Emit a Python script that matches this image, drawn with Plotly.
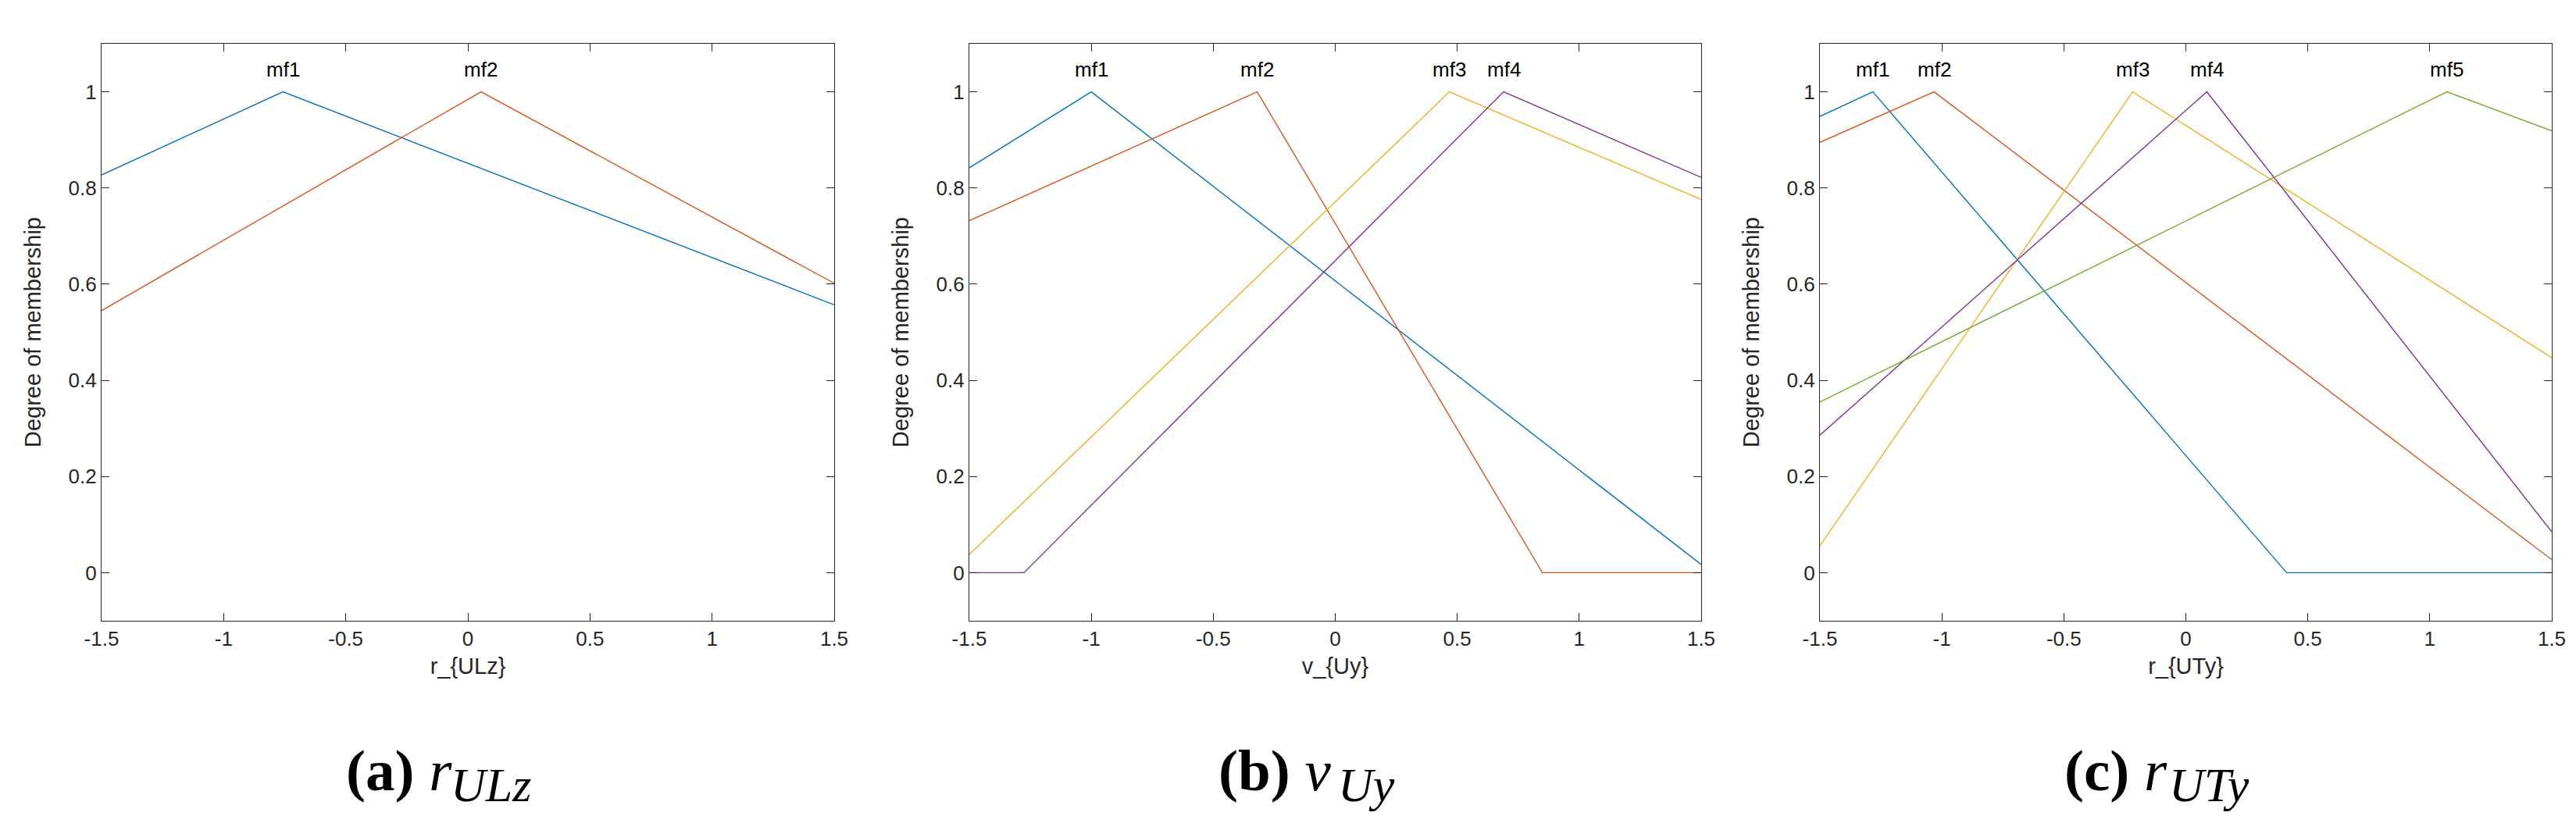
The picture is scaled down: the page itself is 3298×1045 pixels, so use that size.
import plotly.graph_objects as go

# ---------------- data ----------------
a_mf1_x = [-1.5, -0.757, 1.5]
a_mf1_y = [0.827, 1.0, 0.557]
a_mf2_x = [-1.5, 0.054, 1.5]
a_mf2_y = [0.545, 1.0, 0.602]

b_mf1_x = [-1.5, -1.0, 1.5]
b_mf1_y = [0.842, 1.0, 0.017]
b_mf2_x = [-1.5, -0.32, 0.849, 1.5]
b_mf2_y = [0.732, 1.0, 0.0, 0.0]
b_mf3_x = [-1.5, 0.468, 1.5]
b_mf3_y = [0.038, 1.0, 0.776]
b_mf4_x = [-1.5, -1.276, 0.690, 1.5]
b_mf4_y = [0.0, 0.0, 1.0, 0.822]

c_mf1_x = [-1.5, -1.283, 0.413, 1.5]
c_mf1_y = [0.949, 1.0, 0.0, 0.0]
c_mf2_x = [-1.5, -1.032, 1.5]
c_mf2_y = [0.895, 1.0, 0.027]
c_mf3_x = [-1.5, -0.218, 1.5]
c_mf3_y = [0.056, 1.0, 0.447]
c_mf4_x = [-1.5, 0.086, 1.5]
c_mf4_y = [0.286, 1.0, 0.085]
c_mf5_x = [-1.5, 1.070, 1.5]
c_mf5_y = [0.355, 1.0, 0.919]

mf_names = ["mf1", "mf2", "mf3", "mf4", "mf5"]
x_tickvals = [-1.5, -1, -0.5, 0, 0.5, 1, 1.5]
x_ticktext = ["-1.5", "-1", "-0.5", "0", "0.5", "1", "1.5"]
y_tickvals = [0, 0.2, 0.4, 0.6, 0.8, 1]
y_ticktext = ["0", "0.2", "0.4", "0.6", "0.8", "1"]
x_titles = ["r_{ULz}", "v_{Uy}", "r_{UTy}"]
y_title = "Degree of membership"
captions = [("a", "r", "ULz"), ("b", "v", "Uy"), ("c", "r", "UTy")]

colors = ["#0072BD", "#D95319", "#EDB120", "#7E2F8E", "#77AC30"]

panels = [
    [(a_mf1_x, a_mf1_y), (a_mf2_x, a_mf2_y)],
    [(b_mf1_x, b_mf1_y), (b_mf2_x, b_mf2_y), (b_mf3_x, b_mf3_y), (b_mf4_x, b_mf4_y)],
    [(c_mf1_x, c_mf1_y), (c_mf2_x, c_mf2_y), (c_mf3_x, c_mf3_y), (c_mf4_x, c_mf4_y),
     (c_mf5_x, c_mf5_y)],
]

# ---------------- layout geometry ----------------
W, H = 3298, 1045
x_domains = [(122 / W, 1060 / W), (1233 / W, 2170 / W), (2322 / W, 3259 / W)]
y_domain = (258 / H, 997 / H)
caption_main_left = [433, 1550, 2633]
caption_sub_left = [567, 1703, 2767]

AX = "#262626"
FONT = "Liberation Sans"
SERIF = "Liberation Serif"

fig = go.Figure()
annotations = []

for i, series in enumerate(panels):
    xa = "x" if i == 0 else f"x{i+1}"
    ya = "y" if i == 0 else f"y{i+1}"
    for j, (xs, ys) in enumerate(series):
        fig.add_trace(go.Scatter(
            x=xs, y=ys, mode="lines", xaxis=xa, yaxis=ya,
            line=dict(color=colors[j], width=1.4), showlegend=False,
            hoverinfo="skip",
        ))
        peak = xs[ys.index(max(ys))]
        annotations.append(dict(
            x=peak, y=1.047, xref=xa, yref=ya, text=mf_names[j], showarrow=False,
            xanchor="center", yanchor="middle",
            font=dict(family=FONT, size=26, color="#000000"),
        ))

    axis_common = dict(
        showline=True, linecolor=AX, linewidth=1.2, mirror="ticks",
        ticks="inside", ticklen=10, tickwidth=1.2, tickcolor=AX,
        showgrid=False, zeroline=False, automargin=False,
        tickfont=dict(family=FONT, size=26, color=AX),
    )
    fig.layout[f"xaxis{'' if i == 0 else i+1}"] = dict(
        axis_common, domain=list(x_domains[i]), anchor=ya, range=[-1.5, 1.5],
        tickmode="array", tickvals=x_tickvals, ticktext=x_ticktext,
        title=dict(text=x_titles[i], font=dict(family=FONT, size=29, color=AX), standoff=10),
    )
    fig.layout[f"yaxis{'' if i == 0 else i+1}"] = dict(
        axis_common, domain=list(y_domain), anchor=xa, range=[-0.1, 1.1],
        tickmode="array", tickvals=y_tickvals, ticktext=y_ticktext,
        title=dict(text=y_title, font=dict(family=FONT, size=29, color=AX), standoff=26),
    )

    letter, var, sub = captions[i]
    annotations.append(dict(
        x=caption_main_left[i] / W, y=(H - 978) / H, xref="paper", yref="paper",
        text=f"<b>({letter})</b> <i>{var}</i>",
        showarrow=False, xanchor="left", yanchor="middle",
        font=dict(family=SERIF, size=75, color="#000000"),
    ))
    annotations.append(dict(
        x=caption_sub_left[i] / W, y=(H - 997) / H, xref="paper", yref="paper",
        text=f"<i>{sub}</i>",
        showarrow=False, xanchor="left", yanchor="middle",
        font=dict(family=SERIF, size=62, color="#000000"),
    ))

fig.update_layout(
    width=W, height=H, margin=dict(l=0, r=0, t=0, b=0),
    paper_bgcolor="white", plot_bgcolor="white",
    annotations=annotations,
)

fig.write_html("out.html")
